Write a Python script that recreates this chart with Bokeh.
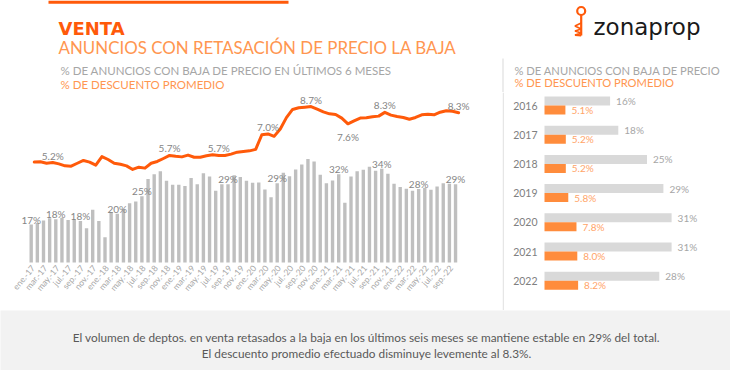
import math
from bokeh.plotting import figure
from bokeh.models import Range1d, ColumnDataSource, Span
from bokeh.layouts import column, row
from bokeh.embed import file_html
from bokeh.resources import INLINE
from bokeh.core.properties import value
from bokeh.transform import dodge

# ---------------- data ----------------
months = [
    "ene.-17", "feb.-17", "mar.-17", "abr.-17", "may.-17", "jun.-17", "jul.-17", "ago.-17", "sep.-17", "oct.-17", "nov.-17", "dic.-17",
    "ene.-18", "feb.-18", "mar.-18", "abr.-18", "may.-18", "jun.-18", "jul.-18", "ago.-18", "sep.-18", "oct.-18", "nov.-18", "dic.-18",
    "ene.-19", "feb.-19", "mar.-19", "abr.-19", "may.-19", "jun.-19", "jul.-19", "ago.-19", "sep.-19", "oct.-19", "nov.-19", "dic.-19",
    "ene.-20", "feb.-20", "mar.-20", "abr.-20", "may.-20", "jun.-20", "jul.-20", "ago.-20", "sep.-20", "oct.-20", "nov.-20", "dic.-20",
    "ene.-21", "feb.-21", "mar.-21", "abr.-21", "may.-21", "jun.-21", "jul.-21", "ago.-21", "sep.-21", "oct.-21", "nov.-21", "dic.-21",
    "ene.-22", "feb.-22", "mar.-22", "abr.-22", "may.-22", "jun.-22", "jul.-22", "ago.-22", "sep.-22", "oct.-22",
]
pct_price_cut = [
    16.8, 17.3, 18.0, 18.7, 18.4, 18.9, 18.2, 18.4, 17.9, 15.7, 21.3, 17.9,
    12.9, 20.6, 20.1, 21.5, 23.3, 23.8, 25.4, 30.7, 32.1, 33.0, 30.1, 28.9,
    28.9, 28.5, 31.0, 29.1, 32.4, 31.4, 27.1, 29.1, 29.1, 31.8, 31.3, 30.1,
    29.5, 29.6, 27.5, 25.1, 29.4, 32.6, 31.5, 33.6, 35.1, 36.8, 36.0, 32.0,
    29.4, 30.2, 32.1, 23.4, 31.4, 33.0, 33.5, 34.4, 33.2, 33.8, 32.3, 29.2,
    28.2, 27.7, 27.1, 27.6, 28.0, 27.4, 28.4, 29.4, 29.2, 29.1,
]
avg_discount = [
    5.27, 5.29, 5.20, 5.24, 5.16, 5.04, 5.02, 5.20, 5.37, 5.27, 5.08, 5.61,
    5.43, 5.20, 5.14, 5.04, 4.82, 4.96, 4.90, 5.20, 5.31, 5.49, 5.68, 5.63,
    5.59, 5.70, 5.57, 5.57, 5.66, 5.72, 5.68, 5.68, 5.76, 5.88, 5.92, 5.96,
    6.05, 6.95, 7.00, 6.85, 7.30, 8.00, 8.50, 8.60, 8.64, 8.68, 8.52, 8.35,
    8.23, 8.19, 7.97, 7.62, 7.80, 7.97, 7.99, 8.05, 8.09, 8.32, 8.15, 8.07,
    8.01, 7.90, 8.01, 8.17, 8.21, 8.17, 8.33, 8.42, 8.39, 8.30,
]
tick_labels = [
    "ene.-17", "mar.-17", "may.-17", "jul.-17", "sep.-17", "nov.-17",
    "ene.-18", "mar.-18", "may.-18", "jul.-18", "sep.-18", "nov.-18",
    "ene.-19", "mar.-19", "may.-19", "jul.-19", "sep.-19", "nov.-19",
    "ene.-20", "mar.-20", "may.-20", "jul.-20", "sep.-20", "nov.-20",
    "ene.-21", "mar.-21", "may.-21", "jul.-21", "sep.-21", "nov.-21",
    "ene.-22", "mar.-22", "may.-22", "jul.-22", "sep.-22",
]
bar_label_months = ["ene.-17", "may.-17", "sep.-17", "mar.-18", "jul.-18", "sep.-19", "may.-20", "mar.-21", "oct.-21", "abr.-22", "oct.-22"]
bar_label_text = ["17%", "18%", "18%", "20%", "25%", "29%", "29%", "32%", "34%", "28%", "29%"]
line_label_months = ["abr.-17", "nov.-18", "jul.-19", "mar.-20", "oct.-20", "abr.-21", "oct.-21", "oct.-22"]
line_label_text = ["5.2%", "5.7%", "5.7%", "7.0%", "8.7%", "7.6%", "8.3%", "8.3%"]
line_label_below = [False, False, False, False, False, True, False, False]

years = ["2016", "2017", "2018", "2019", "2020", "2021", "2022"]
year_pct = [16, 18, 25, 29, 31, 31, 28]
year_disc = [5.1, 5.2, 5.2, 5.8, 7.8, 8.0, 8.2]

title = "VENTA"
subtitle = "ANUNCIOS CON RETASACIÓN DE PRECIO LA BAJA"
legend_main = ["% DE ANUNCIOS CON BAJA DE PRECIO EN ÚLTIMOS 6 MESES", "% DE DESCUENTO PROMEDIO"]
legend_side = ["% DE ANUNCIOS CON BAJA DE PRECIO", "% DE DESCUENTO PROMEDIO"]
footer_lines = [
    "El volumen de deptos. en venta retasados a la baja en los últimos seis meses se mantiene estable en 29% del total.",
    "El descuento promedio efectuado disminuye levemente al 8.3%.",
]

# ---------------- style ----------------
FONT = value("Lato")
ORANGE = "#FF5A0A"
ORANGE_LIGHT = "#FF9650"
BAR_GRAY = "#BFBFBF"
LABEL_GRAY = "#858585"
TOTAL_W = 730
HEAD_H, MID_H, FOOT_H = 92, 218, 60
MAIN_W = 502
SIDE_W = TOTAL_W - MAIN_W
MID_TOP = HEAD_H          # page y of the middle row top


def make_fig(w, h, xr, yr):
    p = figure(width=w, height=h, x_range=xr, y_range=yr, title=None,
               output_backend="svg", toolbar_location=None, min_border=0,
               x_axis_location=None, y_axis_location=None)
    p.xgrid.visible = False
    p.ygrid.visible = False
    p.outline_line_color = None
    p.background_fill_color = "white"
    p.border_fill_color = "white"
    return p


# ---------------- header ----------------
head = make_fig(TOTAL_W, HEAD_H, Range1d(0, TOTAL_W), Range1d(HEAD_H, 0))
head.quad(left=[48], right=[288], top=[0], bottom=[3.3], fill_color=ORANGE, line_color=None)
head.text(x=[58], y=[27.5], text=[title], text_font=value("DejaVu Sans"), text_font_size="18px",
          text_font_style="bold", text_color=ORANGE, text_baseline="alphabetic")
head.text(x=[58], y=[46.5], text=[subtitle], text_font=FONT, text_font_size="16.9px",
          text_color=ORANGE_LIGHT, text_baseline="alphabetic")
head.text(x=[60, 60], y=[70, 83.5], text=legend_main, text_font=FONT, text_font_size="11.5px",
          text_color=["#A6A6A6", ORANGE_LIGHT], text_baseline="alphabetic")
head.text(x=[514, 514], y=[70, 81.5], text=legend_side, text_font=FONT, text_font_size="11.2px",
          text_color=["#A6A6A6", ORANGE_LIGHT], text_baseline="alphabetic")
head.segment(x0=[MAIN_W + 0.5], y0=[58], x1=[MAIN_W + 0.5], y1=[HEAD_H], line_color="#E6E6E6", line_width=1.5)
# logo
head.text(x=[593], y=[26.5], text=["zonaprop"], text_font=value("DejaVu Sans"), text_font_size="23px",
          text_color="#1A1A1A", text_baseline="alphabetic")
head.scatter(x=[580.7], y=[10.5], size=8, marker="circle", fill_color=None, line_color=ORANGE, line_width=2.2)
head.segment(x0=[580.7], y0=[14.5], x1=[580.7], y1=[35], line_color=ORANGE, line_width=2.2)
head.multi_line(xs=[[580.7, 574.5, 580.7, 574.5, 580.7, 574.5, 580.7]],
                ys=[[22.5, 25.5, 28.5, 30.5, 32.5, 34.5, 35]], line_color=ORANGE, line_width=1.8)

# ---------------- main chart ----------------
px_per_month = 6.15
first_bar_px = 30.7
x_start = -first_bar_px / px_per_month
bar_px_per_pct = 3.282
bar_zero_page_y = 279.16
bar_base = 5.23              # value at the chart's baseline
line_px_per_pct = 16.3
line_zero_page_y = 247.5

main = make_fig(MAIN_W, MID_H,
                Range1d(x_start, x_start + MAIN_W / px_per_month),
                Range1d((bar_zero_page_y - (MID_TOP + MID_H)) / bar_px_per_pct,
                        (bar_zero_page_y - MID_TOP) / bar_px_per_pct))
main.extra_y_ranges = {"disc": Range1d((line_zero_page_y - (MID_TOP + MID_H)) / line_px_per_pct,
                                       (line_zero_page_y - MID_TOP) / line_px_per_pct)}

idx = list(range(len(months)))
src = ColumnDataSource(dict(x=idx, pct=pct_price_cut, disc=avg_discount))
main.vbar(x="x", top="pct", bottom=bar_base, width=0.55, source=src,
          fill_color=BAR_GRAY, line_color=None)
main.line(x=dodge("x", 0.5, range=main.x_range), y="disc", source=src, y_range_name="disc",
          line_color=ORANGE, line_width=3, line_join="round", line_cap="round")

bl_x = [months.index(m) for m in bar_label_months]
bl_y = [pct_price_cut[i] for i in bl_x]
main.text(x=bl_x, y=bl_y, text=bar_label_text, text_font=FONT, text_font_size="10px",
          text_color=LABEL_GRAY, text_align="center", text_baseline="alphabetic", y_offset=-5)

ll_x = [months.index(m) + 0.5 for m in line_label_months]
ll_y = [avg_discount[months.index(m)] for m in line_label_months]
ll_off = [13 if b else -7 for b in line_label_below]
main.text(x=ll_x, y=ll_y, text=line_label_text, y_offset=ll_off, y_range_name="disc",
          text_font=FONT, text_font_size="10px", text_color=LABEL_GRAY,
          text_align="center", text_baseline="alphabetic")

# month tick labels (every other month), rotated
tick_pos = [months.index(t) for t in tick_labels]
main.text(x=tick_pos, y=[bar_base] * len(tick_pos), text=tick_labels, angle=math.radians(50),
          x_offset=2, y_offset=4, text_align="right", text_baseline="middle",
          text_font=FONT, text_font_size="8.5px", text_color="#A6A6A6")

# ---------------- side chart ----------------
side_px_per_unit = 4.1
side_zero_px = 42
row_px = 29.2
row0_page_y = 105
sx0 = -side_zero_px / side_px_per_unit
sy_top = (MID_TOP - row0_page_y) / row_px
side = make_fig(SIDE_W, MID_H,
                Range1d(sx0, sx0 + SIDE_W / side_px_per_unit),
                Range1d(sy_top + MID_H / row_px, sy_top))
ssrc = ColumnDataSource(dict(k=list(range(len(years))), year=years, pct=year_pct, disc=year_disc,
                             pct_txt=[f"{v}%" for v in year_pct], disc_txt=[f"{v:.1f}%" for v in year_disc]))
half = 0.154
side.hbar(y=dodge("k", -half, range=side.y_range), left=0, right="pct", height=2 * half, source=ssrc,
          fill_color="#D9D9D9", line_color=None)
side.hbar(y=dodge("k", half, range=side.y_range), left=0, right="disc", height=2 * half, source=ssrc,
          fill_color="#FF8C3C", line_color=None)
side.text(x=0, y="k", text="year", source=ssrc, x_offset=-7, text_align="right", text_baseline="middle",
          text_font=FONT, text_font_size="10.5px", text_color="#808080")
side.text(x="pct", y=dodge("k", -half, range=side.y_range), text="pct_txt", source=ssrc, x_offset=6,
          text_align="left", text_baseline="middle", text_font=FONT, text_font_size="10px", text_color="#A6A6A6")
side.text(x="disc", y=dodge("k", half, range=side.y_range), text="disc_txt", source=ssrc, x_offset=6,
          text_align="left", text_baseline="middle", text_font=FONT, text_font_size="10px", text_color="#FFA468")
side.add_layout(Span(location=sx0 + 0.75 / side_px_per_unit, dimension="height",
                     line_color="#E6E6E6", line_width=1.5))

# ---------------- footer ----------------
foot = make_fig(TOTAL_W, FOOT_H, Range1d(0, TOTAL_W), Range1d(FOOT_H, 0))
foot.background_fill_color = "#F2F2F2"
foot.border_fill_color = "#F2F2F2"
foot.text(x=[366, 366], y=[27, 43], text=footer_lines, text_font=FONT, text_font_size="11.8px",
          text_color="#595959", text_align="center", text_baseline="middle")

layout = column(head, row(main, side), foot)
open("out.html", "w").write(file_html(layout, INLINE))
